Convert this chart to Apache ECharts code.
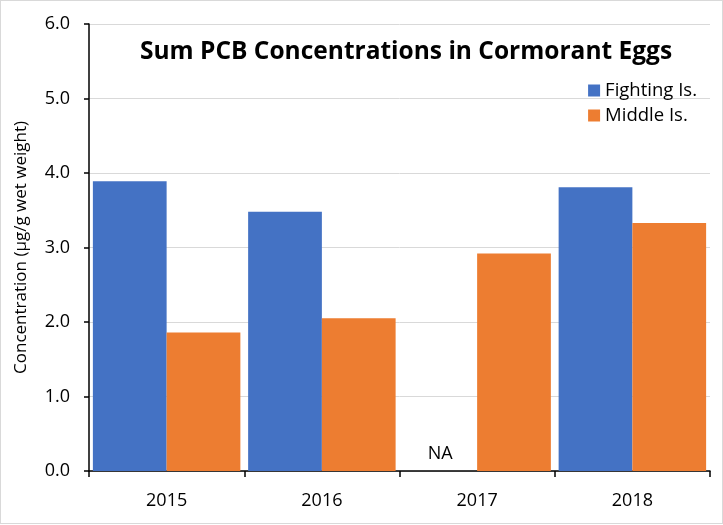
<!DOCTYPE html>
<html>
<head>
<meta charset="utf-8">
<script src="https://cdn.jsdelivr.net/npm/echarts@6/dist/echarts.min.js"></script>
<style>
  html, body { margin: 0; padding: 0; background: #fff; }
  #chart {
    width: 721px;
    height: 522px;
    border: 1px solid #d9d9d9;
  }
</style>
</head>
<body>
<div id="chart"></div>
<script>
const years = ['2015', '2016', '2017', '2018']
const fighting = [3.89, 3.48, null, 3.81]
const middle = [1.86, 2.05, 2.92, 3.33]
const yTicks = [0, 1, 2, 3, 4, 5, 6]

const font = '"Open Sans", "Noto Sans", sans-serif'

const chart = echarts.init(document.getElementById('chart'))

// the missing 2017 value shows as an "NA" label at zero
const fightingData = fighting.map(v =>
  v === null
    ? { value: 0, label: { show: true, position: 'top', distance: 8, formatter: 'NA' } }
    : v
)

chart.setOption({
  animation: false,
  textStyle: { fontFamily: font },
  title: {
    text: 'Sum PCB Concentrations in Cormorant Eggs',
    left: 134,
    top: 34,
    textStyle: { fontSize: 24.5, fontWeight: 'bold', color: '#000', fontFamily: font }
  },
  legend: {
    orient: 'vertical',
    right: 20,
    top: 75,
    itemWidth: 12,
    itemHeight: 12,
    itemGap: 6,
    icon: 'rect',
    textStyle: { fontSize: 18.5, color: '#000' },
    data: ['Fighting Is.', 'Middle Is.']
  },
  grid: { left: 88, right: 12, top: 23, bottom: 52, outerBoundsMode: 'none', containLabel: false },
  xAxis: {
    type: 'category',
    data: years,
    axisLine: { lineStyle: { color: '#000', width: 1.5 } },
    axisTick: { show: true, length: 6, lineStyle: { color: '#000', width: 1.5 } },
    axisLabel: { fontSize: 18, color: '#000', margin: 21 }
  },
  yAxis: {
    type: 'value',
    min: yTicks[0],
    max: yTicks[yTicks.length - 1],
    interval: 1,
    name: 'Concentration (µg/g wet weight)',
    nameLocation: 'middle',
    nameGap: 59,
    nameTextStyle: { fontSize: 17, color: '#000' },
    axisLine: { show: true, lineStyle: { color: '#000', width: 1.5 } },
    axisTick: { show: true, length: 5, lineStyle: { color: '#000', width: 1.5 } },
    axisLabel: { fontSize: 18, color: '#000', margin: 19, formatter: v => v.toFixed(1) },
    splitLine: { lineStyle: { color: '#d9d9d9', width: 1 } }
  },
  series: [
    {
      name: 'Fighting Is.',
      type: 'bar',
      data: fightingData,
      barGap: '0%',
      barCategoryGap: '5%',
      itemStyle: { color: '#4472C4' },
      label: { fontSize: 18, color: '#000' }
    },
    {
      name: 'Middle Is.',
      type: 'bar',
      data: middle,
      barGap: '0%',
      barCategoryGap: '5%',
      itemStyle: { color: '#ED7D31' }
    }
  ]
})
</script>
</body>
</html>
